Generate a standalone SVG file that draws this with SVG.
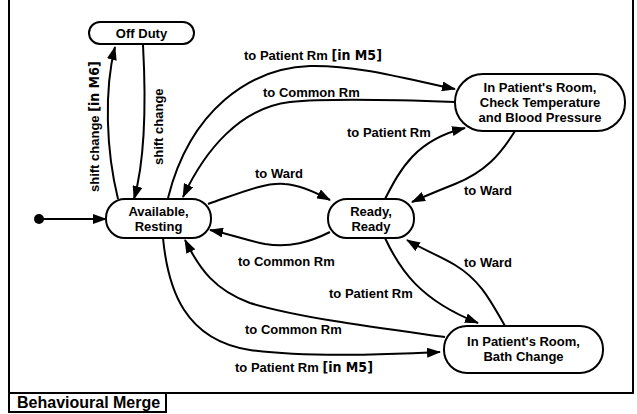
<svg xmlns="http://www.w3.org/2000/svg" width="637" height="414" viewBox="0 0 637 414">
<style>
.node rect{fill:#fff;stroke:#000;stroke-width:2}
.nt{font-family:"Liberation Sans",Arial,sans-serif;font-weight:bold;font-size:13px;text-anchor:middle;fill:#000}
.lb{font-family:"Liberation Sans",Arial,sans-serif;font-weight:bold;font-size:13px;fill:#000}
.g{font-family:"DejaVu Sans",sans-serif;font-weight:900;font-stretch:condensed;font-size:14px}
.edges path,.edges line{fill:none;stroke:#000;stroke-width:2;marker-end:url(#ah)}
.frame{fill:none;stroke:#000;stroke-width:2}
</style>
<defs>
<marker id="ah" markerUnits="userSpaceOnUse" markerWidth="14" markerHeight="10" viewBox="0 0 14 10" refX="13" refY="5" orient="auto">
<path d="M0,0 L14,5 L0,10 Z" fill="#000"/>
</marker>
</defs>
<rect width="637" height="414" fill="#fff"/>
<g id="frame">
<path class="frame" d="M9,0 V393 H633 V0"/>
<rect x="9" y="393" width="157" height="19" fill="#fff" stroke="#000" stroke-width="2"/>
<text x="17" y="408" font-family="'Liberation Sans',Arial,sans-serif" font-weight="bold" font-size="16">Behavioural Merge</text>
</g>
<g class="edges" id="connectors">
<circle cx="39" cy="219" r="5" fill="#000"/>
<line x1="39" y1="219" x2="106" y2="219"/>
<path d="M118,199 C106,150 104,90 115,47"/>
<path d="M143,45 C146,100 145,160 134,199"/>
<path d="M168,198 C190,110 250,68 310,66 C360,65 410,80 455,89"/>
<path d="M455,102 C400,100 330,98 290,102 C240,108 205,150 183,197"/>
<path d="M208,204 C240,193 265,182 285,184 C300,185 315,192 330,200"/>
<path d="M330,232 C310,242 290,248 265,244 C245,240 230,234 210,230"/>
<path d="M385,199 C400,170 415,140 465,128"/>
<path d="M515,131 C500,155 485,172 455,184 C440,190 425,196 412,202"/>
<path d="M385,238 C400,270 420,300 478,323"/>
<path d="M505,326 C490,300 480,280 455,265 C440,256 420,248 407,240"/>
<path d="M445,337 C380,328 300,318 250,303 C215,290 200,270 185,240"/>
<path d="M163,238 C168,290 185,340 250,350 C300,357 380,355 440,352"/>
</g>
<g id="labels">
<text class="lb" transform="translate(99,192) rotate(-90)">shift change <tspan class="g">[in M6]</tspan></text>
<text class="lb" transform="translate(163,165) rotate(-90)">shift change</text>
<text class="lb" x="244" y="60">to Patient Rm <tspan class="g">[in M5]</tspan></text>
<text class="lb" x="263" y="97">to Common Rm</text>
<text class="lb" x="255" y="178">to Ward</text>
<text class="lb" x="238" y="266">to Common Rm</text>
<text class="lb" x="347" y="137">to Patient Rm</text>
<text class="lb" x="464" y="195">to Ward</text>
<text class="lb" x="329" y="298">to Patient Rm</text>
<text class="lb" x="464" y="267">to Ward</text>
<text class="lb" x="245" y="334">to Common Rm</text>
<text class="lb" x="235" y="372">to Patient Rm <tspan class="g">[in M5]</tspan></text>
</g>
<g class="node" id="off-duty">
<rect x="89" y="22" width="105" height="22" rx="11"/>
<text class="nt" x="141.5" y="38">Off Duty</text>
</g>
<g class="node" id="available">
<rect x="106" y="199" width="105" height="39" rx="19"/>
<text class="nt" x="158.5" y="216">Available,</text>
<text class="nt" x="158.5" y="231">Resting</text>
</g>
<g class="node" id="ready">
<rect x="328" y="199" width="86" height="39" rx="19"/>
<text class="nt" x="371" y="216">Ready,</text>
<text class="nt" x="371" y="231">Ready</text>
</g>
<g class="node" id="check-temp">
<rect x="455" y="74" width="170" height="57" rx="28"/>
<text class="nt" x="540" y="92">In Patient's Room,</text>
<text class="nt" x="540" y="107">Check Temperature</text>
<text class="nt" x="540" y="122">and Blood Pressure</text>
</g>
<g class="node" id="bath-change">
<rect x="444" y="326" width="159" height="47" rx="23"/>
<text class="nt" x="523.5" y="346">In Patient's Room,</text>
<text class="nt" x="523.5" y="361">Bath Change</text>
</g>
</svg>
